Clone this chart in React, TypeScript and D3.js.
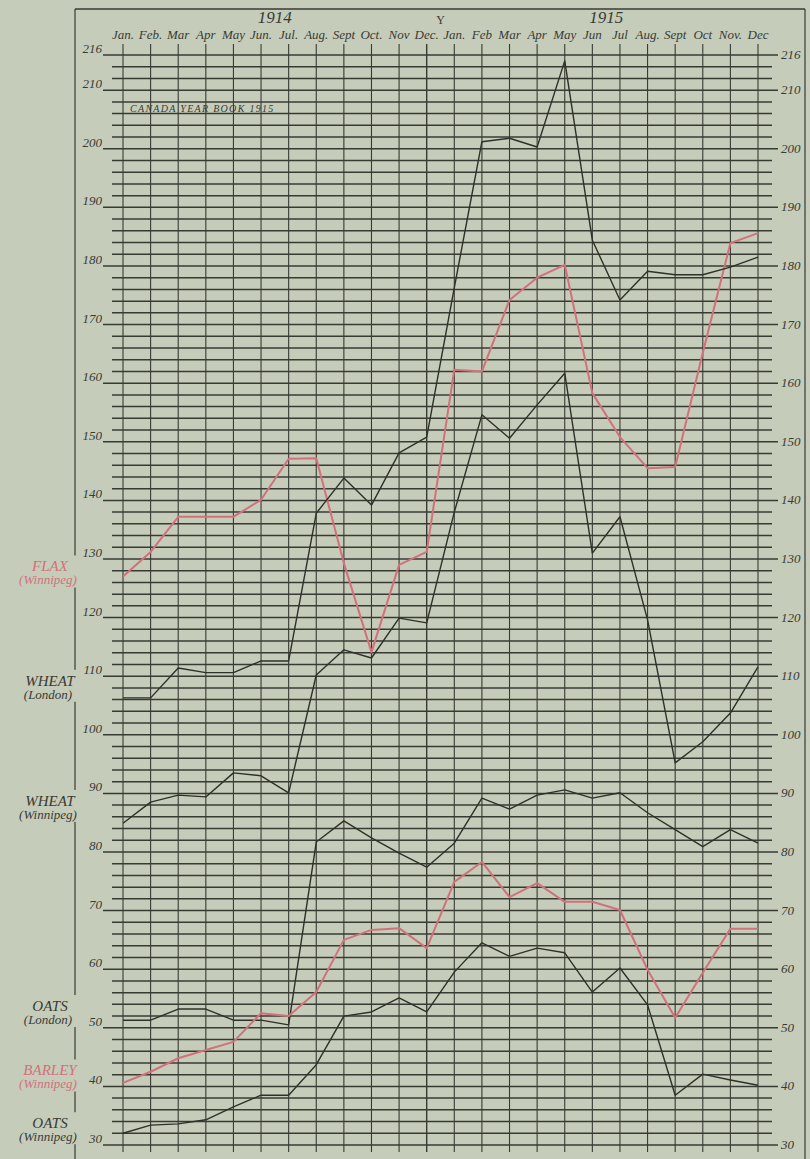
import * as d3 from 'd3';

const months1914 = ['Jan.', 'Feb.', 'Mar', 'Apr', 'May', 'Jun.', 'Jul.', 'Aug.', 'Sept', 'Oct.', 'Nov', 'Dec.'];
const months1915 = ['Jan.', 'Feb', 'Mar', 'Apr', 'May', 'Jun', 'Jul', 'Aug.', 'Sept', 'Oct', 'Nov.', 'Dec'];
const monthLabels = [...months1914, ...months1915];
const years = ['1914', '1915'];

const leftTicks = [216, 210, 200, 190, 180, 170, 160, 150, 140, 130, 120, 110, 100, 90, 80, 70, 60, 50, 40, 30];

// Jan 1914 .. Dec 1915, monthly
const flaxWinnipeg = [127, 131.2, 137.2, 137.2, 137.2, 140.1, 147.1, 147.2, 129.3, 114.1, 129, 131.2,
  162.3, 162, 174.2, 178, 180.2, 158.3, 150.8, 145.5, 145.7, 165.2, 183.9, 185.6];
const wheatLondon = [106.3, 106.3, 111.4, 110.6, 110.6, 112.6, 112.6, 137.8, 143.8, 139.2, 148.1, 150.8,
  176.3, 201.2, 201.8, 200.3, 215, 184.4, 174.2, 179.1, 178.5, 178.5, 179.8, 181.5];
const wheatWinnipeg = [84.9, 88.5, 89.7, 89.4, 93.5, 93, 90.1, 110.2, 114.5, 113.1, 119.9, 119.1,
  138, 154.6, 150.6, 156.3, 161.7, 131, 137.2, 119.6, 95.2, 98.8, 103.7, 111.6];
const oatsLondon = [51.3, 51.3, 53.2, 53.2, 51.3, 51.3, 50.5, 81.7, 85.3, 82.4, 79.8, 77.4,
  81.5, 89.2, 87.3, 89.7, 90.6, 89.2, 90.1, 86.7, 83.8, 80.9, 83.8, 81.5];
const barleyWinnipeg = [40.6, 42.5, 44.8, 46.2, 47.6, 52.5, 52, 56.1, 65, 66.7, 67, 63.6,
  74.9, 78.3, 72.3, 74.7, 71.5, 71.5, 70.1, 59.9, 51.7, 59.4, 66.9, 66.9];
const oatsWinnipeg = [32, 33.4, 33.6, 34.3, 36.5, 38.5, 38.5, 43.7, 52, 52.7, 55.1, 52.7,
  59.5, 64.5, 62.2, 63.6, 62.8, 56.1, 60.2, 53.9, 38.5, 42.1, 41.1, 40.2];

const seriesNames = ['FLAX', 'WHEAT', 'WHEAT', 'OATS', 'BARLEY', 'OATS'];
const seriesPlaces = ['(Winnipeg)', '(London)', '(Winnipeg)', '(London)', '(Winnipeg)', '(Winnipeg)'];
const seriesValues = [flaxWinnipeg, wheatLondon, wheatWinnipeg, oatsLondon, barleyWinnipeg, oatsWinnipeg];
const seriesRed = [true, false, false, false, true, false];
// where each label sits on the left margin (value on the y scale)
const labelAt = [126.5, 107, 86.5, 51.5, 40.5, 31.5];

const BG = '#c6ccba';
const INK = '#383b33';
const RED = '#d2707b';
const FONT = '"Liberation Serif", "DejaVu Serif", serif';

export default function App() {
  const W = 810;
  const H = 1159;

  const x = d3.scaleLinear().domain([0, 23]).range([123, 758]);
  const y = d3.scaleLinear().domain([30, 216]).range([1145, 55]);

  const gridValues = d3.range(30, 217, 2);
  const line = d3
    .line<number>()
    .x((_, i) => x(i))
    .y((d) => y(d));

  return (
    <svg
      width={W}
      height={H}
      style={{ position: 'absolute', left: 0, top: 0, background: BG }}
      fontFamily={FONT}
    >
      <rect x={0} y={0} width={W} height={H} fill={BG} />

      {/* frame */}
      <line x1={75} x2={805} y1={9} y2={9} stroke={INK} strokeWidth={1.4} />
      <line x1={805} x2={805} y1={9} y2={H} stroke={INK} strokeWidth={1.2} />
      <line x1={75} x2={75} y1={9} y2={H} stroke={INK} strokeWidth={1.2} />

      {/* gaps in the frame behind the series labels */}
      {seriesNames.map((_, k) => (
        <rect key={'gap' + k} x={8} y={y(labelAt[k]) - 24} width={84} height={32} fill={BG} />
      ))}

      {/* horizontal grid */}
      {gridValues.map((v) => {
        const major = leftTicks.includes(v);
        return (
          <line
            key={'h' + v}
            x1={major ? 103 : 112}
            x2={major ? 778 : 772}
            y1={y(v)}
            y2={y(v)}
            stroke={INK}
            strokeWidth={1.5}
          />
        );
      })}

      {/* vertical month lines */}
      {monthLabels.map((_, i) => (
        <line
          key={'v' + i}
          x1={x(i)}
          x2={x(i)}
          y1={44}
          y2={1152}
          stroke={INK}
          strokeWidth={i === 11 ? 1.4 : 1.1}
        />
      ))}

      {/* month and year labels */}
      {monthLabels.map((m, i) => (
        <text
          key={'m' + i}
          x={x(i)}
          y={39}
          textAnchor="middle"
          fontSize={13}
          fontStyle="italic"
          fill={INK}
        >
          {m}
        </text>
      ))}
      {years.map((yr, k) => (
        <text
          key={yr}
          x={k === 0 ? x(5.5) : x(17.5)}
          y={23}
          textAnchor="middle"
          fontSize={17}
          fontStyle="italic"
          fill={INK}
        >
          {yr}
        </text>
      ))}
      <text x={(x(11) + x(12)) / 2} y={24} textAnchor="middle" fontSize={12} fill={INK}>
        Y
      </text>

      <text x={130} y={112} fontSize={10} fontStyle="italic" fill={INK} letterSpacing={1.3}>
        CANADA YEAR BOOK 1915
      </text>

      {/* y tick labels */}
      {leftTicks.map((v) => (
        <g key={'t' + v}>
          <text x={102} y={y(v) - 2} textAnchor="end" fontSize={13} fontStyle="italic" fill={INK}>
            {v}
          </text>
          <text x={781} y={y(v) + 4} fontSize={13} fontStyle="italic" fill={INK}>
            {v}
          </text>
        </g>
      ))}

      {/* series labels */}
      {seriesNames.map((name, k) => {
        const cy = y(labelAt[k]);
        const color = seriesRed[k] ? RED : INK;
        return (
          <g key={'l' + k}>
            <text x={50} y={cy - 8} textAnchor="middle" fontSize={15} fontStyle="italic" fill={color}>
              {name}
            </text>
            <text x={48} y={cy + 5} textAnchor="middle" fontSize={13} fontStyle="italic" fill={color}>
              {seriesPlaces[k]}
            </text>
          </g>
        );
      })}

      {/* data lines */}
      {seriesValues.map((vals, k) => (
        <path
          key={'s' + k}
          d={line(vals) ?? ''}
          fill="none"
          stroke={seriesRed[k] ? RED : '#2e3129'}
          strokeWidth={seriesRed[k] ? 2 : 1.4}
          strokeLinejoin="round"
        />
      ))}
    </svg>
  );
}
